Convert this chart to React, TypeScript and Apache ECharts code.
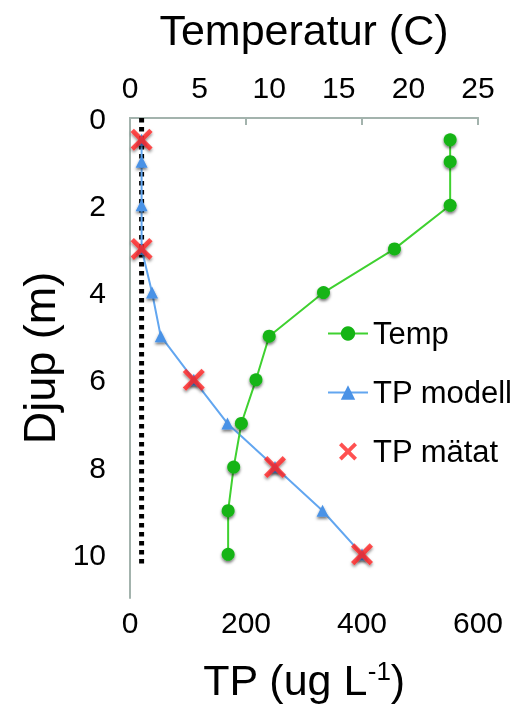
import React, { useEffect, useRef } from "react";
import * as echarts from "echarts";

const depths = [0.5, 1, 2, 3, 4, 5, 6, 7, 8, 9, 10];
const temperature = [23, 23, 23, 19, 13.9, 10, 9.05, 8, 7.45, 7.05, 7.05];
const tpModel = [20, 20, 20, 20, 38, 53, 110, 168, 250, 332, 400];
const measuredDepths = [0.5, 3, 6, 8, 10];
const tpMeasured = [20, 20, 110, 250, 400];
const refTP = 20;
const refDepths = [0, 10.3];

const FONT = "Liberation Sans";
const AXIS_COLOR = "#a3b3ad";
const X_PATH =
  "path://M0,3 L3,0 L10,7 L17,0 L20,3 L13,10 L20,17 L17,20 L10,13 L3,20 L0,17 L7,10 Z";

export default function App() {
  const ref = useRef<HTMLDivElement>(null);
  useEffect(() => {
    if (!ref.current) return;
    const chart = echarts.init(ref.current, undefined, { renderer: "svg" });
    const shadow = {
      shadowBlur: 3,
      shadowColor: "rgba(0,0,0,0.55)",
      shadowOffsetX: 0,
      shadowOffsetY: 2,
    };
    chart.setOption({
      animation: false,
      textStyle: { fontFamily: FONT, color: "#000" },
      grid: { left: 130, right: 48, top: 118, bottom: 114 },
      legend: {
        orient: "vertical",
        left: 322,
        top: 313,
        itemWidth: 40,
        itemHeight: 18,
        itemGap: 28,
        data: ["Temp", "TP modell", "TP mätat"],
        textStyle: { fontFamily: FONT, fontSize: 31, color: "#000" },
      },
      xAxis: [
        {
          type: "value",
          position: "bottom",
          min: 0,
          max: 600,
          interval: 200,
          name: "{a|TP (ug L}{s|-1}{a|)}",
          nameLocation: "middle",
          nameGap: 60,
          nameTextStyle: {
            rich: {
              a: { fontFamily: FONT, fontSize: 43, color: "#000" },
              s: {
                fontFamily: FONT,
                fontSize: 26,
                color: "#000",
                verticalAlign: "top",
              },
            },
          },
          axisLine: { show: true, lineStyle: { color: AXIS_COLOR, width: 2 } },
          axisTick: { show: true, length: 7, lineStyle: { color: AXIS_COLOR, width: 2 } },
          axisLabel: { fontFamily: FONT, fontSize: 30, color: "#000", margin: 9 },
          splitLine: { show: false },
        },
        {
          type: "value",
          position: "top",
          min: 0,
          max: 25,
          interval: 5,
          name: "Temperatur (C)",
          nameLocation: "middle",
          nameGap: 67,
          nameTextStyle: { fontFamily: FONT, fontSize: 43, color: "#000" },
          axisLine: { show: true, lineStyle: { color: AXIS_COLOR, width: 2 } },
          axisTick: { show: false },
          axisLabel: { fontFamily: FONT, fontSize: 30, color: "#000", margin: 16 },
          splitLine: { show: false },
        },
      ],
      yAxis: {
        type: "value",
        inverse: true,
        min: 0,
        max: 11,
        interval: 2,
        name: "Djup (m)",
        nameLocation: "middle",
        nameGap: 55,
        nameTextStyle: { fontFamily: FONT, fontSize: 45, color: "#000" },
        axisLine: { show: true, lineStyle: { color: AXIS_COLOR, width: 2 } },
        axisTick: { show: false },
        axisLabel: {
          fontFamily: FONT,
          fontSize: 30,
          color: "#000",
          margin: 24,
          formatter: (v: number) => (v % 2 === 0 ? String(v) : ""),
        },
        splitLine: { show: false },
      },
      series: [
        {
          name: "ref",
          type: "line",
          xAxisIndex: 0,
          data: refDepths.map((d) => [refTP, d]),
          symbol: "none",
          lineStyle: { color: "#000", width: 5, type: [4.5, 4.5] },
          z: 1,
        },
        {
          name: "TP modell",
          type: "line",
          xAxisIndex: 0,
          data: depths.map((d, i) => [tpModel[i], d]),
          symbol: "triangle",
          symbolSize: 12,
          itemStyle: { color: "#4a92e6", ...shadow },
          lineStyle: { color: "#62a6f0", width: 2 },
          z: 2,
        },
        {
          name: "Temp",
          type: "line",
          xAxisIndex: 1,
          data: depths.map((d, i) => [temperature[i], d]),
          symbol: "circle",
          symbolSize: 13,
          itemStyle: { color: "#14b414", ...shadow },
          lineStyle: { color: "#3fd130", width: 2 },
          z: 3,
        },
        {
          name: "TP mätat",
          type: "scatter",
          xAxisIndex: 0,
          data: measuredDepths.map((d, i) => [tpMeasured[i], d]),
          symbol: X_PATH,
          symbolSize: 22,
          itemStyle: { color: "#ff2626", ...shadow },
          z: 4,
        },
      ],
    });
    return () => chart.dispose();
  }, []);
  return (
    <div
      ref={ref}
      style={{ position: "fixed", left: 0, top: 0, width: 526, height: 712 }}
    />
  );
}
